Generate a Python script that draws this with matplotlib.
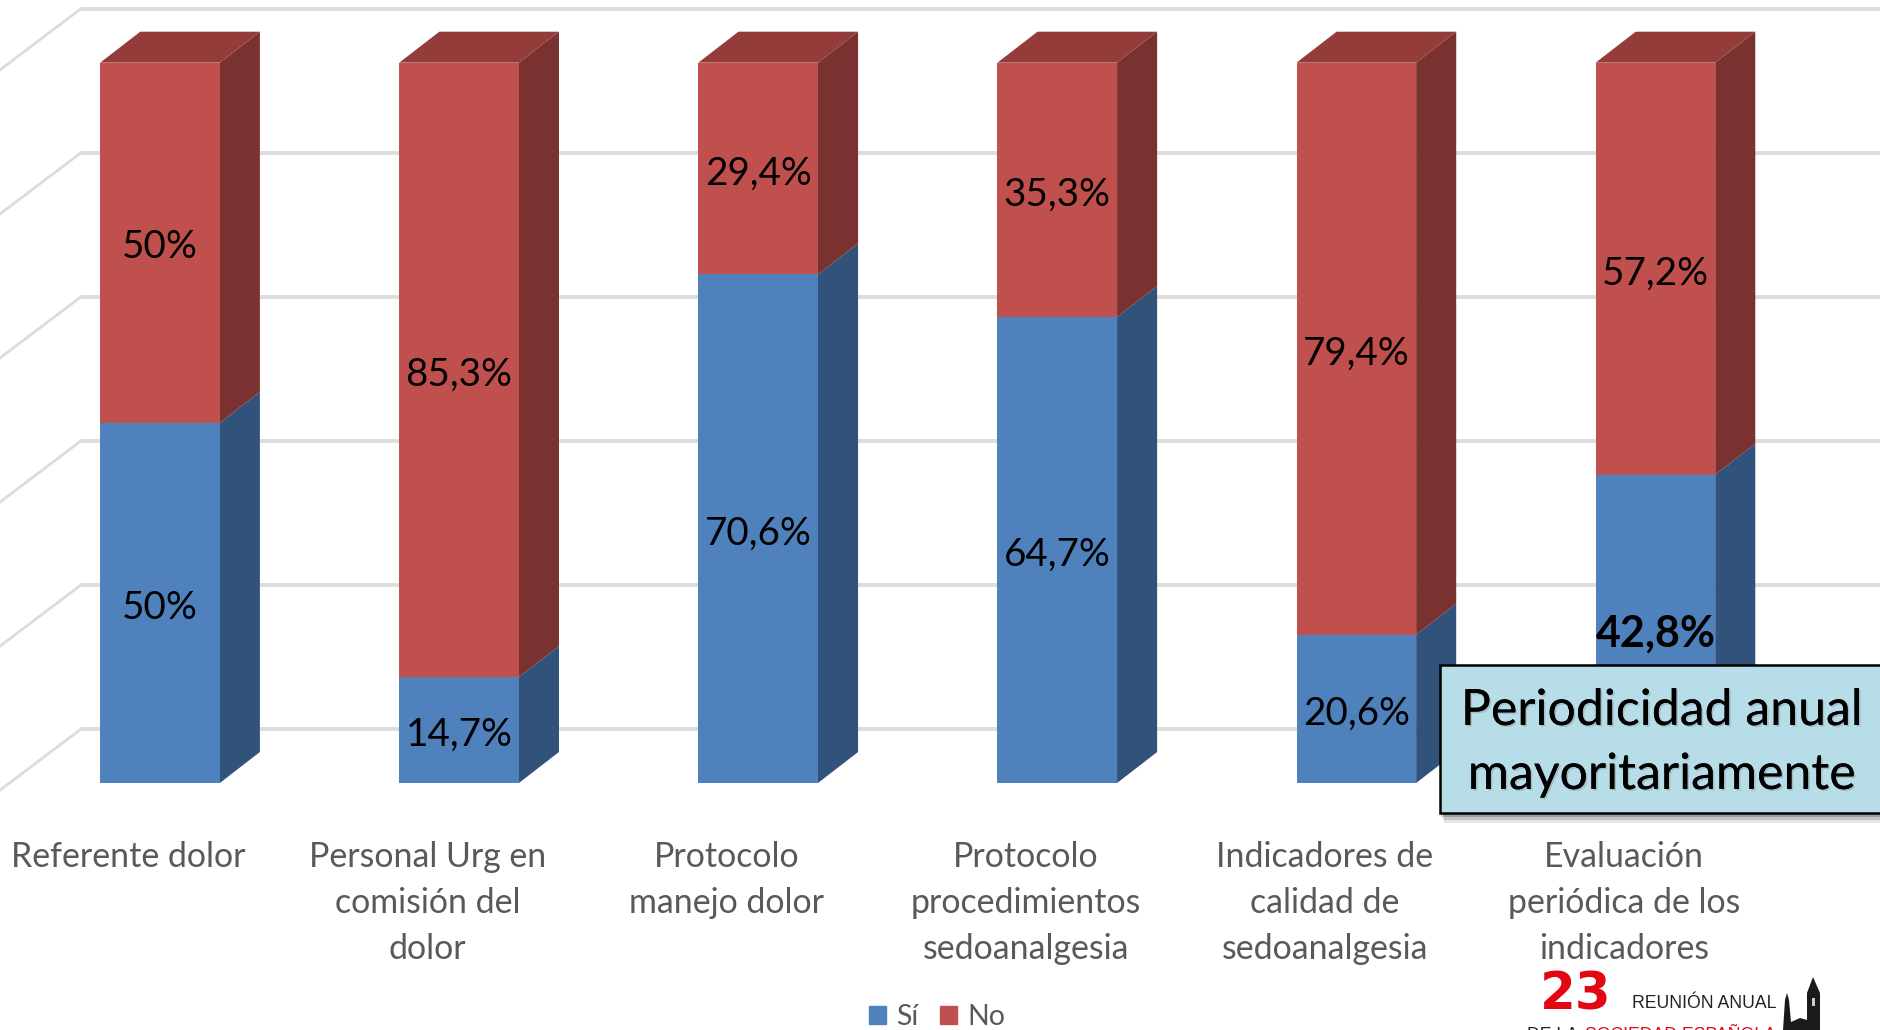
import matplotlib
matplotlib.use("Agg")
import matplotlib.pyplot as plt
import matplotlib.patheffects as pe
from matplotlib.patches import Patch, Rectangle, Polygon
import numpy as np

categorias = ["Referente dolor", "Personal Urg en\ncomisión del\ndolor", "Protocolo\nmanejo dolor",
              "Protocolo\nprocedimientos\nsedoanalgesia", "Indicadores de\ncalidad de\nsedoanalgesia",
              "Evaluación\nperiódica de los\nindicadores"]
si = [50, 14.7, 70.6, 64.7, 20.6, 42.8]
no = [50, 85.3, 29.4, 35.3, 79.4, 57.2]
grid_vals = [0, 20, 40, 60, 80, 100]

azul, azul_osc = "#4f81bd", "#31527a"
rojo, rojo_osc, rojo_top = "#c0504d", "#7a3230", "#943c3a"
gris = "#dcdcdc"

W, H = 1880, 1030
plt.rcParams['font.family'] = ['Lato', 'DejaVu Sans']
fig = plt.figure(figsize=(W / 100, H / 100), dpi=100)
ax = fig.add_axes([0, (H - 783) / H, 1, 783 / H])
ax.set_xlim(-0.535, 5.751)
ax.set_ylim(0, 108.7)
for s in ax.spines.values():
    s.set_visible(False)

x = np.arange(len(categorias))
ancho = 0.4
dx, dy = 0.134, 4.3        # profundidad de la barra
wall_x = -0.264            # pared del fondo
wall_dy = 7.5
wall_dx = 0.271

# rejilla: pared trasera y lateral
for v in grid_vals:
    yb = v + wall_dy
    ax.plot([wall_x, 5.751], [yb, yb], color=gris, lw=2.8, zorder=1, solid_capstyle="butt")
    ax.plot([wall_x, wall_x - wall_dx], [yb, yb - 8.5], color=gris, lw=2, zorder=1, clip_on=False)

ax.bar(x, si, ancho, color=azul, zorder=3)
ax.bar(x, no, ancho, bottom=si, color=rojo, zorder=3)

for xi, a, b in zip(x, si, no):
    r = xi + ancho / 2
    l = xi - ancho / 2
    ax.add_patch(Polygon([(r, 0), (r + dx, dy), (r + dx, a + dy), (r, a)], color=azul_osc, lw=0, zorder=2))
    ax.add_patch(Polygon([(r, a), (r + dx, a + dy), (r + dx, a + b + dy), (r, a + b)], color=rojo_osc, lw=0, zorder=2))
    ax.add_patch(Polygon([(l, a + b), (l + dx, a + b + dy), (r + dx, a + b + dy), (r, a + b)], color=rojo_top, lw=0, zorder=2))


def etiqueta(v):
    return f"{v:g}".replace(".", ",") + "%"


for i, (xi, a, b) in enumerate(zip(x, si, no)):
    bold = i == 5
    ax.annotate(etiqueta(a), (xi, a / 2), xytext=(0, -3.4), textcoords="offset points", ha="center", va="center",
                fontsize=31 if bold else 27.8, color="black", fontweight="bold" if bold else "normal", zorder=4)
    ax.annotate(etiqueta(b), (xi, a + b / 2), xytext=(0, -3.4), textcoords="offset points", ha="center", va="center",
                fontsize=27.8, color="black", zorder=4)

ax.set_xticks(x - 0.105, categorias, fontsize=24.4, color="#595959", linespacing=1.54)
ax.tick_params(axis="x", length=0, pad=42)
ax.set_yticks([])

ax.legend(handles=[Patch(color=azul, label="Sí"), Patch(color=rojo, label="No")], ncol=2, frameon=False,
          fontsize=20.5, labelcolor="#595959", loc="center", bbox_to_anchor=(0.4985, -0.299),
          handlelength=0.6, handleheight=0.6, handletextpad=0.35, columnspacing=0.75)

# capa en pixeles para el recuadro y el logo
ov = fig.add_axes([0, 0, 1, 1], zorder=5)
ov.set_xlim(0, W)
ov.set_ylim(H, 0)
ov.axis("off")
ov.patch.set_alpha(0)

for k, al in zip([10, 7, 4], [0.10, 0.14, 0.18]):
    ov.add_patch(Rectangle((1439 + k / 2, 664 + k), 500, 149, color="black", alpha=al, lw=0))
ov.add_patch(Rectangle((1440, 665), 500, 148, facecolor="#b7dde8", edgecolor="black", lw=1.8))
sombra = [pe.withSimplePatchShadow(offset=(1.2, -1.2), shadow_rgbFace="#777777", alpha=0.3), pe.Normal()]
ov.text(1662, 711, "Periodicidad anual", ha="center", va="center", fontsize=36, color="black", path_effects=sombra)
ov.text(1662, 775, "mayoritariamente", ha="center", va="center", fontsize=36, color="black", path_effects=sombra)

# logo
ov.text(1576, 996, "23", ha="center", va="center", fontsize=37, fontweight="bold", color="#e30613",
        family="DejaVu Sans")
ov.text(1632, 1004, "REUNIÓN ANUAL", ha="left", va="center", fontsize=12.7, color="#222222", family="Liberation Sans")
ov.text(1527, 1036, "DE LA", ha="left", va="center", fontsize=12.7, color="#222222", family="Liberation Sans")
ov.text(1585, 1036, "SOCIEDAD ESPAÑOLA", ha="left", va="center", fontsize=12.7, color="#e30613", family="Liberation Sans")
ov.add_patch(Polygon([(1783, 1030), (1785, 1000), (1787, 993), (1789, 1000), (1791, 1022), (1800, 1018), (1807, 1020),
                      (1807, 993), (1813, 977), (1820, 993), (1820, 1030)], color="#1a1a1a", lw=0))
ov.add_patch(Rectangle((1812, 998), 3, 8, color="#cccccc", lw=0))

fig.savefig("out.png", dpi=100)
